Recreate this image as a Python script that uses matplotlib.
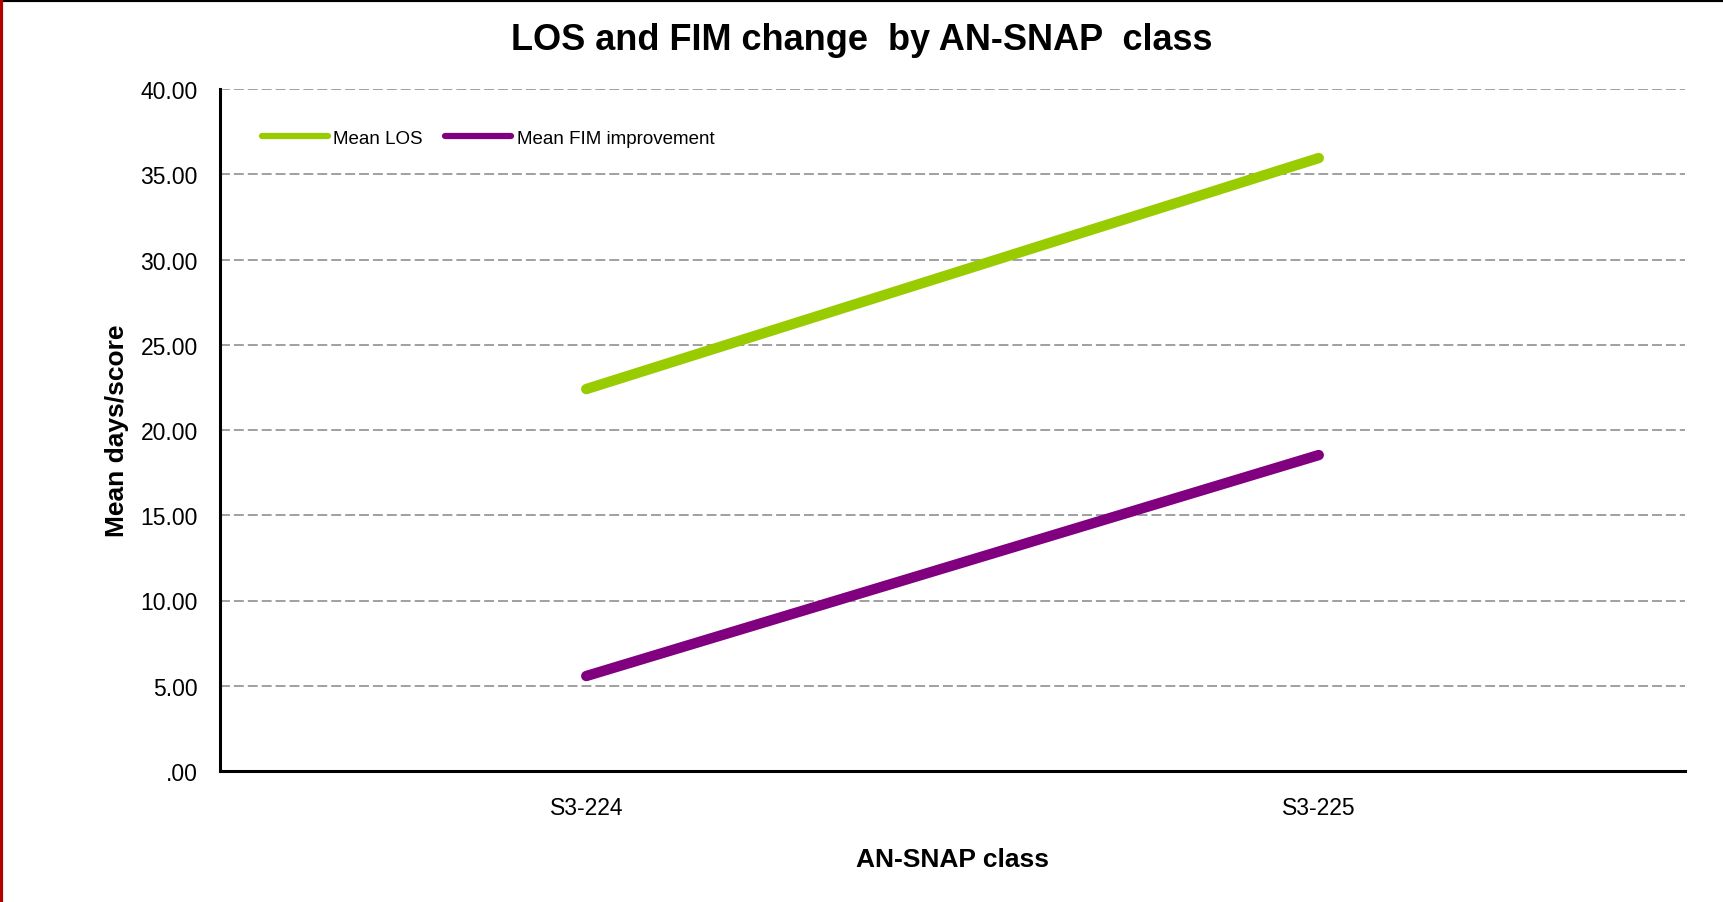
import matplotlib
matplotlib.use("agg")
from matplotlib import pyplot as plt
from matplotlib.lines import Line2D

classes = ["S3-224", "S3-225"]
mean_los = [22.4, 35.95]
mean_fim = [5.57, 18.53]
y_ticks = [0, 5, 10, 15, 20, 25, 30, 35, 40]
y_tick_labels = [".00", "5.00", "10.00", "15.00", "20.00", "25.00", "30.00", "35.00", "40.00"]

plt.rcParams["font.family"] = ["Liberation Sans", "DejaVu Sans"]

fig = plt.figure(figsize=(17.23, 9.03), dpi=100)
ax = fig.add_axes([220 / 1723, 1 - 772 / 903, 1465 / 1723, 682 / 903])

x = list(range(len(classes)))
ax.plot(x, mean_los, color="#99cc00", lw=7.5, solid_capstyle="round", label="Mean LOS")
ax.plot(x, mean_fim, color="#800080", lw=7.5, solid_capstyle="round", label="Mean FIM improvement")

ax.set_xlim(-0.5, 1.5)
ax.set_ylim(0, 40)
ax.set_xticks(x)
ax.set_xticklabels(classes, fontsize=16.5)
ax.set_yticks(y_ticks)
ax.set_yticklabels(y_tick_labels, fontsize=16.5)
ax.tick_params(axis="both", length=0)
ax.tick_params(axis="y", pad=16)
ax.tick_params(axis="x", pad=18)

for v in y_ticks[1:]:
    ax.axhline(v, color="#999999", lw=1.3, dashes=(5.5, 2.2), zorder=0)

for s in ["top", "right"]:
    ax.spines[s].set_visible(False)
for s in ["left", "bottom"]:
    ax.spines[s].set_linewidth(2.2)
    ax.spines[s].set_color("black")

ax.set_xlabel("AN-SNAP class", fontsize=19, fontweight="bold", labelpad=20)
ax.set_ylabel("Mean days/score", fontsize=19, fontweight="bold", labelpad=8)
fig.text(0.5, 1 - 40 / 903, "LOS and FIM change  by AN-SNAP  class",
         ha="center", va="center", fontsize=26, fontweight="bold")

leg = ax.legend(loc="upper left", bbox_to_anchor=(0.0287, 0.94), ncol=2, frameon=False,
                fontsize=13.5, borderpad=0, borderaxespad=0,
                handlelength=3.5, handletextpad=0.3, columnspacing=1.2)
for line in leg.get_lines():
    line.set_linewidth(4.5)

# outer border lines
fig.add_artist(Line2D([0, 1], [0.999, 0.999], transform=fig.transFigure, color="black", lw=3))
fig.add_artist(Line2D([0.0008, 0.0008], [0, 1], transform=fig.transFigure, color="#b00000", lw=3))

fig.savefig("out.png", dpi=100)
